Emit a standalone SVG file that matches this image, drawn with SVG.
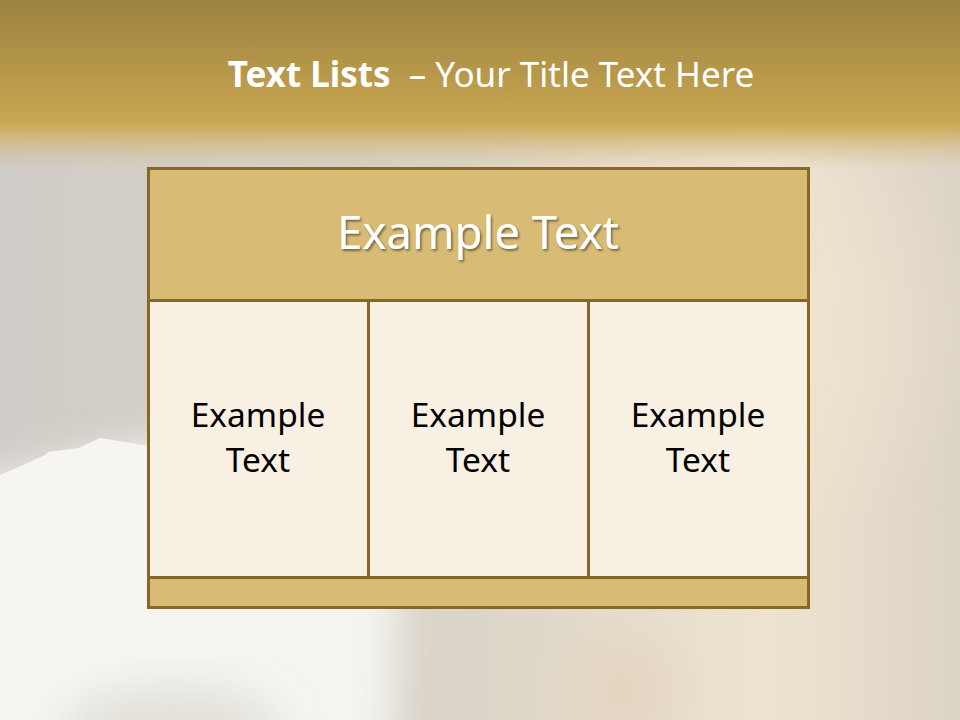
<svg xmlns="http://www.w3.org/2000/svg" width="960" height="720" viewBox="0 0 960 720">
<defs>
<linearGradient id="top" x1="0" y1="0" x2="0" y2="1">
<stop offset="0" stop-color="#9c823f"/>
<stop offset="0.72" stop-color="#c9a752"/>
<stop offset="0.78" stop-color="#cfae60" stop-opacity="0.85"/>
<stop offset="1" stop-color="#d7c29a" stop-opacity="0"/>
</linearGradient>
<linearGradient id="bgh" x1="0" y1="0" x2="1" y2="0">
<stop offset="0" stop-color="#cfcbc6"/>
<stop offset="0.45" stop-color="#d9d3c8"/>
<stop offset="0.8" stop-color="#ede3cf"/>
<stop offset="1" stop-color="#dcd4c7"/>
</linearGradient>
<radialGradient id="glowR" cx="0.5" cy="0.5" r="0.5">
<stop offset="0" stop-color="#f1e6d0"/>
<stop offset="1" stop-color="#f1e6d0" stop-opacity="0"/>
</radialGradient>
<radialGradient id="glowP" cx="0.5" cy="0.5" r="0.5">
<stop offset="0" stop-color="#e4d6c0"/>
<stop offset="1" stop-color="#e4d6c0" stop-opacity="0"/>
</radialGradient>
<filter id="blur" x="-30%" y="-30%" width="160%" height="160%"><feGaussianBlur stdDeviation="22"/></filter>
<filter id="sh" x="-10%" y="-10%" width="120%" height="130%"><feDropShadow dx="1.5" dy="2" stdDeviation="1.2" flood-color="#000" flood-opacity="0.45"/></filter>
</defs>
<style>
.box{stroke:#876628;stroke-width:3}
.hdr{fill:#d8bc76}
.cell{fill:#f7f0e3}
.t{font-family:"Noto Sans","Open Sans","Liberation Sans",sans-serif;text-anchor:middle}
.ct{font-size:33.5px;fill:#000}
</style>
<!-- background -->
<rect width="960" height="720" fill="url(#bgh)"/>
<ellipse cx="700" cy="330" rx="280" ry="230" fill="url(#glowR)"/>
<ellipse cx="620" cy="690" rx="90" ry="80" fill="url(#glowP)"/>
<path d="M-100 500 L144 445 L300 450 L380 470 L400 600 L390 820 L-100 820 Z" fill="#f5f4f0" filter="url(#blur)"/>
<path d="M0 475 L30 462 L45 455 L48 452 L78 448 L100 438 L144 445 L148 445 L150 720 L0 720 Z" fill="#f6f5f2"/>
<ellipse cx="170" cy="730" rx="110" ry="45" fill="#dcd8d0" opacity="0.7" filter="url(#blur)"/>
<rect width="960" height="170" fill="url(#top)"/>
<!-- title -->
<text x="491" y="87" class="t" font-size="35" fill="#fff" xml:space="preserve"><tspan font-weight="bold">Text Lists</tspan><tspan>  – Your Title Text Here</tspan></text>
<!-- table -->
<g id="header">
<rect class="box hdr" x="148.5" y="168.5" width="660" height="132"/>
<text x="478" y="249" class="t" font-size="45.5" fill="#fff" filter="url(#sh)">Example Text</text>
</g>
<g id="cell1">
<rect class="box cell" x="148.5" y="300.5" width="220" height="277"/>
<text class="t ct" x="258" y="427">Example</text>
<text class="t ct" x="258" y="472">Text</text>
</g>
<g id="cell2">
<rect class="box cell" x="368.5" y="300.5" width="220" height="277"/>
<text class="t ct" x="478" y="427">Example</text>
<text class="t ct" x="478" y="472">Text</text>
</g>
<g id="cell3">
<rect class="box cell" x="588.5" y="300.5" width="220" height="277"/>
<text class="t ct" x="698" y="427">Example</text>
<text class="t ct" x="698" y="472">Text</text>
</g>
<g id="footer">
<rect class="box hdr" x="148.5" y="577.5" width="660" height="30"/>
</g>
<g id="connectors"/>
</svg>
